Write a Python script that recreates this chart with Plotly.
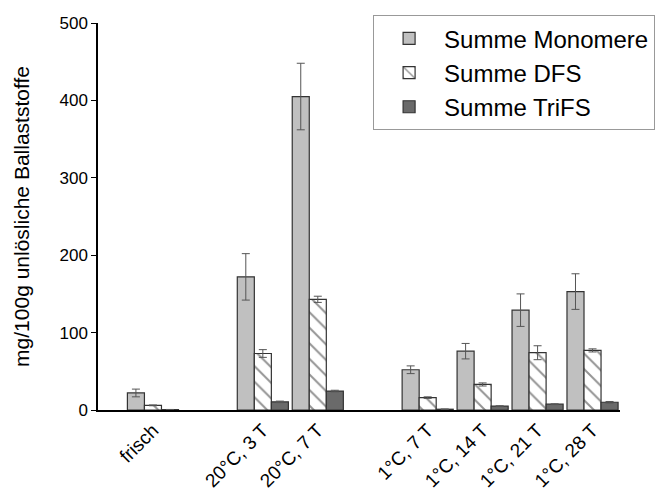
import plotly.graph_objects as go

categories = ["frisch", "20°C, 3 T", "20°C, 7 T", "1°C, 7 T", "1°C, 14 T", "1°C, 21 T", "1°C, 28 T"]
positions = [0, 2, 3, 5, 6, 7, 8]

monomere = [22, 172, 405, 52, 76, 129, 153]
monomere_err = [5, 30, 43, 5, 10, 21, 23]
dfs = [6, 73, 143, 16, 33, 74, 77]
dfs_err = [0.5, 5, 4, 1, 2, 9, 2]
trifs = [0.5, 10.5, 24.5, 1, 5, 7.5, 10]
trifs_err = [0.2, 1, 1, 0.3, 0.5, 0.5, 1]

font = "Liberation Sans, Arial, sans-serif"
outline = dict(color="#333333", width=1.2)
err_style = dict(type="data", thickness=1, width=4, color="#555555")

fig = go.Figure()
fig.add_trace(go.Bar(
    name="Summe Monomere", x=positions, y=monomere,
    error_y=dict(array=monomere_err, **err_style),
    marker=dict(color="#c0c0c0", line=outline),
))
fig.add_trace(go.Bar(
    name="Summe DFS", x=positions, y=dfs,
    error_y=dict(array=dfs_err, **err_style),
    marker=dict(color="white", line=outline,
                pattern=dict(shape="\\", fgcolor="#2a2a2a", bgcolor="white", size=11, solidity=0.18)),
))
fig.add_trace(go.Bar(
    name="Summe TriFS", x=positions, y=trifs,
    error_y=dict(array=trifs_err, **err_style),
    marker=dict(color="#6a6a6a", line=outline),
))

# page body has an 8px default margin -> figure is 8px smaller and margins shifted
fig.update_layout(
    width=663, height=484,
    margin=dict(l=90, r=51, t=15, b=82, autoexpand=False),
    paper_bgcolor="white", plot_bgcolor="white",
    barmode="group", bargap=0.07, bargroupgap=0,
    font=dict(family=font, size=17, color="black"),
    showlegend=True,
    legend=dict(
        x=0.527, y=1.02, xanchor="left", yanchor="top",
        bgcolor="white", bordercolor="#999999", borderwidth=1,
        font=dict(size=24, family=font), itemwidth=60, tracegroupgap=0,
    ),
    xaxis=dict(
        range=[-1, 8.5], tickmode="array", tickvals=positions, ticktext=categories,
        tickangle=-45, showline=True, linecolor="black", linewidth=1.5,
        ticks="", showgrid=False, zeroline=False, automargin=False,
        tickfont=dict(size=19),
    ),
    yaxis=dict(
        range=[0, 500], tickvals=[0, 100, 200, 300, 400, 500],
        showline=True, linecolor="black", linewidth=1.5,
        ticks="outside", ticklen=5, tickcolor="black",
        showgrid=False, zeroline=False, automargin=False,
        title=dict(text="mg/100g unlösliche Ballaststoffe", font=dict(size=21), standoff=24),
        tickfont=dict(size=17),
    ),
)

fig.write_html("out.html")
